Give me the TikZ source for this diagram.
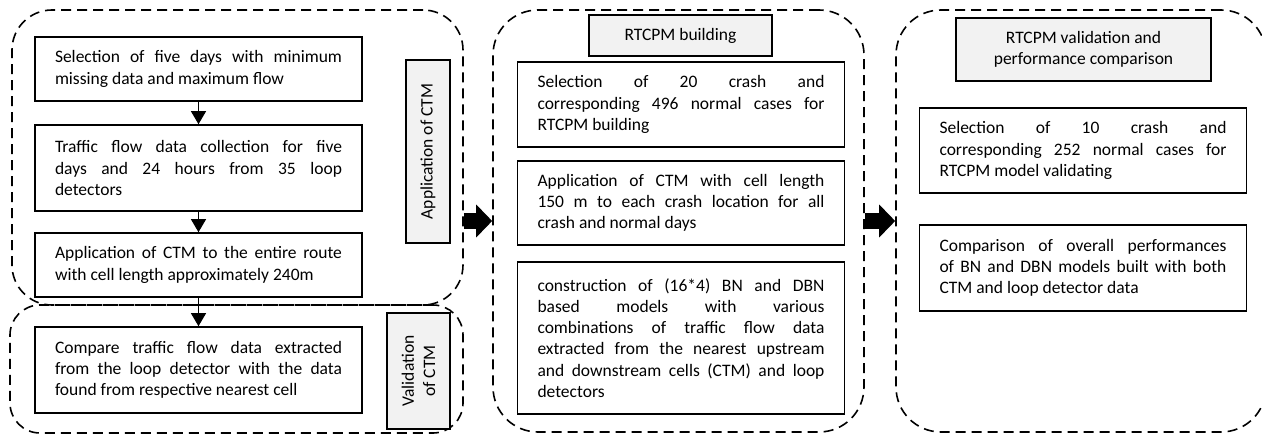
\documentclass[tikz,border=0pt]{standalone}
\usepackage{fontspec}
\setmainfont{Carlito}
\usetikzlibrary{arrows.meta}
\tikzset{
  group/.style={draw, dashed, dash pattern=on 10pt off 6pt, line width=1.6pt,
                rounded corners=#1, inner sep=0pt},
  group/.default=40pt,
  stepbox/.style={draw, line width=1.6pt, inner xsep=20pt, inner ysep=0pt,
                  minimum width=327pt, text width=287pt, align=justify,
                  font=\fontsize{17.5}{21.3}\selectfont},
  tagbox/.style={draw, line width=1.6pt, fill=black!5, inner sep=0pt, align=center,
                 font=\fontsize{17.5}{21.3}\selectfont},
  flow/.style={line width=1pt, -{Triangle[width=15pt,length=13pt]}},
  bigarrow/.style={line width=16pt, -{Triangle[width=32pt,length=16pt]}},
}
\begin{document}
\begin{tikzpicture}[x=1pt,y=-1pt]
\useasboundingbox (0,0) rectangle (1262,436);

% grouping frames
\node[group, minimum width=451pt, minimum height=295pt] (appgrp) at (237.5,157.5) {};
\node[group=30pt, minimum width=453pt, minimum height=128pt] (valgrp) at (236.5,369) {};
\node[group=45pt, minimum width=371pt, minimum height=422pt] (bldgrp) at (678.5,221) {};
\node[group=45pt, minimum width=370pt, minimum height=422pt] (cmpgrp) at (1081,221) {};

% CTM application steps
\node[stepbox, minimum height=64pt] (s1) at (198.5,69) {Selection of five days with minimum\linebreak missing data and maximum flow};
\node[stepbox, minimum height=86pt] (s2) at (198.5,168) {Traffic flow data collection for five\linebreak days and 24 hours from 35 loop\linebreak detectors};
\node[stepbox, minimum height=64pt] (s3) at (198.5,265) {Application of CTM to the entire route\linebreak with cell length approximately 240m};
\node[stepbox, minimum height=86pt] (s4) at (198.5,370) {Compare traffic flow data extracted\linebreak from the loop detector with the data\linebreak found from respective nearest cell};

\node[tagbox, rotate=90, minimum width=183pt, minimum height=44pt] (tapp) at (428,151.5) {Application of CTM};
\node[tagbox, rotate=90, minimum width=116pt, minimum height=63pt] (tval) at (418.5,371) {Validation\\of CTM};

% RTCPM building
\node[tagbox, minimum width=183pt, minimum height=41pt] (tbld) at (680.5,35.5) {RTCPM building};
\node[stepbox, minimum height=85pt] (m1) at (681,104.5) {Selection of 20 crash and\linebreak corresponding 496 normal cases for\linebreak RTCPM building};
\node[stepbox, minimum height=84pt] (m2) at (681,203) {Application of CTM with cell length\linebreak 150 m to each crash location for all\linebreak crash and normal days};
\node[stepbox, minimum height=152pt] (m3) at (681,338) {construction of (16*4) BN and DBN\linebreak based models with various\linebreak combinations of traffic flow data\linebreak extracted from the nearest upstream\linebreak and downstream cells (CTM) and loop\linebreak detectors};

% RTCPM validation and comparison
\node[tagbox, minimum width=255pt, minimum height=63pt] (tcmp) at (1083.5,49.5) {RTCPM validation and\\performance comparison};
\node[stepbox, minimum height=85pt] (r1) at (1083,150.5) {Selection of 10 crash and\linebreak corresponding 252 normal cases for\linebreak RTCPM model validating};
\node[stepbox, minimum height=86pt] (r2) at (1083,268) {Comparison of overall performances\linebreak of BN and DBN models built with both\linebreak CTM and loop detector data};

% connectors
\draw[flow] (s1) -- (s2);
\draw[flow] (s2) -- (s3);
\draw[flow] (s3) -- (s4);
\draw[bigarrow] (appgrp.east |- bldgrp.west) -- (bldgrp.west);
\draw[bigarrow] (bldgrp.east) -- (cmpgrp.west);
\end{tikzpicture}
\end{document}
